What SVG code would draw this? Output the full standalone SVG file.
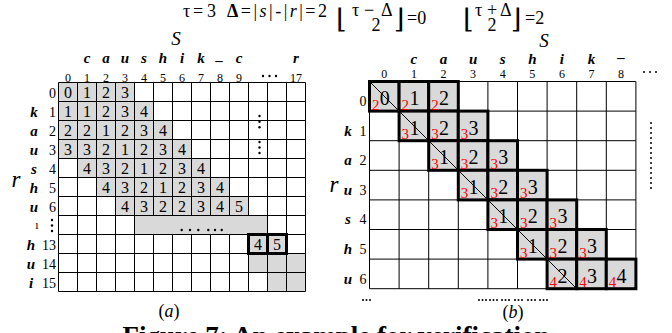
<svg xmlns="http://www.w3.org/2000/svg" width="672" height="333" viewBox="0 0 672 333">
<style>
text{font-family:"Liberation Serif","Times New Roman",serif;fill:#000}
.v{font-size:16px;text-anchor:middle}
.bv{font-size:20px;text-anchor:middle}
.rd{font-size:15px;fill:#f00}
.lt{font-size:15px;font-weight:bold;font-style:italic;text-anchor:middle}
.hn{font-size:12px;text-anchor:middle}
.rn{font-size:14px;text-anchor:end}
.ln{fill:none;stroke:#000;stroke-width:1}
.sh{fill:#d9d9d9}
.tk{fill:#d9d9d9;stroke:#000;stroke-width:3}
.big{font-style:italic;font-size:23px;text-anchor:middle}
.ti{font-size:18px}
.fl{font-family:"DejaVu Serif",serif;font-size:27px}
</style>
<rect width="672" height="333" fill="#fff"/>

<g id="title">
<text class="ti" x="183 193 207" y="17">τ=3</text>
<text class="ti" x="227" y="17" textLength="100" lengthAdjust="spacing"><tspan font-weight="bold">Δ</tspan>=|<tspan font-style="italic">s</tspan>|-|<tspan font-style="italic">r</tspan>|=2</text>
<text class="fl" x="336" y="28">⌊</text>
<text class="ti" x="352 364 381" y="16">τ−Δ</text>
<text class="ti" x="376" y="31" text-anchor="middle">2</text>
<text class="fl" x="394" y="28">⌋</text>
<text class="ti" x="407" y="24">=0</text>
<text class="fl" x="463" y="28">⌊</text>
<text class="ti" x="475 487 500" y="16">τ+Δ</text>
<text class="ti" x="492" y="31" text-anchor="middle">2</text>
<text class="fl" x="511" y="28">⌋</text>
<text class="ti" x="525" y="24">=2</text>
</g>

<g id="gridA">
<rect class="sh" x="58.5" y="82.5" width="76" height="19"/>
<rect class="sh" x="58.5" y="101.5" width="95" height="19"/>
<rect class="sh" x="58.5" y="120.5" width="114" height="19"/>
<rect class="sh" x="58.5" y="139.5" width="133" height="19"/>
<rect class="sh" x="77.5" y="158.5" width="133" height="19"/>
<rect class="sh" x="96.5" y="177.5" width="133" height="19"/>
<rect class="sh" x="115.5" y="196.5" width="133" height="19"/>
<rect class="sh" x="134.5" y="215.5" width="133" height="19"/>
<rect class="sh" x="248.5" y="253.5" width="57" height="19"/>
<rect class="sh" x="267.5" y="272.5" width="38" height="19"/>
<path class="ln" d="M58.5 82.5H305.5M58.5 101.5H305.5M58.5 120.5H305.5M58.5 139.5H305.5M58.5 158.5H305.5M58.5 177.5H305.5M58.5 196.5H305.5M58.5 215.5H305.5M58.5 234.5H305.5M58.5 253.5H305.5M58.5 272.5H305.5M58.5 291.5H305.5
M58.5 82.5V291.5M77.5 82.5V291.5M96.5 82.5V291.5M115.5 82.5V291.5M134.5 82.5V291.5
M153.5 82.5V215.5M153.5 234.5V291.5M172.5 82.5V215.5M172.5 234.5V291.5M191.5 82.5V215.5M191.5 234.5V291.5M210.5 82.5V215.5M210.5 234.5V291.5M229.5 82.5V215.5M229.5 234.5V291.5M248.5 82.5V215.5M248.5 234.5V291.5
M267.5 82.5V291.5M286.5 82.5V291.5M305.5 82.5V291.5"/>
<rect class="tk" x="248.5" y="234.5" width="19" height="19"/>
<rect class="tk" x="267.5" y="234.5" width="19" height="19"/>

<text class="v" x="68 87 106 125" y="97.5">0123</text>
<text class="v" x="68 87 106 125 144" y="116.5">11234</text>
<text class="v" x="68 87 106 125 144 163" y="135.5">221234</text>
<text class="v" x="68 87 106 125 144 163 182" y="154.5">3321234</text>
<text class="v" x="87 106 125 144 163 182 201" y="173.5">4321234</text>
<text class="v" x="106 125 144 163 182 201 220" y="192.5">4321234</text>
<text class="v" x="125 144 163 182 201 220 239" y="211.5">4322345</text>
<text class="v" x="258 277" y="249.5">45</text>

<text class="hn" x="68 87 106 125 144 163 182 201 220 239" y="81.5">0123456789</text>
<text class="hn" x="296" y="81.5">17</text>
<text class="lt" x="87 106 125 144 163 182 201" y="63">caushik</text>
<text class="lt" x="220" y="60">_</text>
<text class="lt" x="239" y="63">c</text>
<text class="lt" x="296" y="63">r</text>
<text x="176" y="45" font-size="19" font-style="italic" text-anchor="middle">S</text>

<text class="rn" x="56" y="97.5">0</text>
<text class="rn" x="56" y="116.5">1</text>
<text class="rn" x="56" y="135.5">2</text>
<text class="rn" x="56" y="154.5">3</text>
<text class="rn" x="56" y="173.5">4</text>
<text class="rn" x="56" y="192.5">5</text>
<text class="rn" x="56" y="211.5">6</text>
<text class="rn" x="56" y="249.5">13</text>
<text class="rn" x="56" y="268.5">14</text>
<text class="rn" x="56" y="287.5">15</text>
<text class="lt" x="34" y="116.5">k</text>
<text class="lt" x="34" y="135.5">a</text>
<text class="lt" x="34" y="154.5">u</text>
<text class="lt" x="34" y="173.5">s</text>
<text class="lt" x="34" y="192.5">h</text>
<text class="lt" x="34" y="211.5">u</text>
<text x="37" y="229" font-size="12" text-anchor="middle">ı</text>
<text class="lt" x="31" y="249.5">h</text>
<text class="lt" x="31" y="268.5">u</text>
<text class="lt" x="31" y="287.5">i</text>
<text class="big" x="16" y="187">r</text>

<g fill="#000">
<circle cx="52" cy="220" r="1.2"/><circle cx="52" cy="225.5" r="1.2"/><circle cx="52" cy="231" r="1.2"/>
<circle cx="263" cy="76" r="1.2"/><circle cx="269.5" cy="76" r="1.2"/><circle cx="276" cy="76" r="1.2"/>
<circle cx="259.5" cy="116" r="1.2"/><circle cx="259.5" cy="121.7" r="1.2"/><circle cx="259.5" cy="127.3" r="1.2"/>
<circle cx="259.5" cy="142" r="1.2"/><circle cx="259.5" cy="147.5" r="1.2"/><circle cx="259.5" cy="153" r="1.2"/>
<circle cx="181.7" cy="230" r="1.2"/><circle cx="190" cy="230" r="1.2"/><circle cx="198.3" cy="230" r="1.2"/>
<circle cx="208.3" cy="230" r="1.2"/><circle cx="215" cy="230" r="1.2"/><circle cx="221.7" cy="230" r="1.2"/>
</g>
<text x="169" y="317" font-size="18" text-anchor="middle">(<tspan font-style="italic">a</tspan>)</text>
</g>

<g id="gridB">
<path class="ln" d="M369.5 81.5H635.9M369.5 111.1H635.9M369.5 140.7H635.9M369.5 170.3H635.9M369.5 199.9H635.9M369.5 229.5H635.9M369.5 259.1H635.9M369.5 288.7H635.9
M369.5 81.5V288.7M399.1 81.5V288.7M428.7 81.5V288.7M458.3 81.5V288.7M487.9 81.5V288.7M517.5 81.5V288.7M547.1 81.5V288.7M576.7 81.5V288.7M606.3 81.5V288.7M635.9 81.5V288.7"/>
<g class="tk">
<rect x="369.5" y="81.5" width="29.6" height="29.6"/><rect x="399.1" y="81.5" width="29.6" height="29.6"/><rect x="428.7" y="81.5" width="29.6" height="29.6"/>
<rect x="399.1" y="111.1" width="29.6" height="29.6"/><rect x="428.7" y="111.1" width="29.6" height="29.6"/><rect x="458.3" y="111.1" width="29.6" height="29.6"/>
<rect x="428.7" y="140.7" width="29.6" height="29.6"/><rect x="458.3" y="140.7" width="29.6" height="29.6"/><rect x="487.9" y="140.7" width="29.6" height="29.6"/>
<rect x="458.3" y="170.3" width="29.6" height="29.6"/><rect x="487.9" y="170.3" width="29.6" height="29.6"/><rect x="517.5" y="170.3" width="29.6" height="29.6"/>
<rect x="487.9" y="199.9" width="29.6" height="29.6"/><rect x="517.5" y="199.9" width="29.6" height="29.6"/><rect x="547.1" y="199.9" width="29.6" height="29.6"/>
<rect x="517.5" y="229.5" width="29.6" height="29.6"/><rect x="547.1" y="229.5" width="29.6" height="29.6"/><rect x="576.7" y="229.5" width="29.6" height="29.6"/>
<rect x="547.1" y="259.1" width="29.6" height="29.6"/><rect x="576.7" y="259.1" width="29.6" height="29.6"/><rect x="606.3" y="259.1" width="29.6" height="29.6"/>
</g>

<text class="bv" x="384.8 414.4 444" y="105">012</text>
<text class="bv" x="414.4 444 473.6" y="134.6">123</text>
<text class="bv" x="444 473.6 503.2" y="164.2">123</text>
<text class="bv" x="473.6 503.2 532.8" y="193.8">123</text>
<text class="bv" x="503.2 532.8 562.4" y="223.4">123</text>
<text class="bv" x="532.8 562.4 592" y="253">123</text>
<text class="bv" x="562.4 592 621.6" y="282.6">234</text>

<text class="rd" x="372 401.6 431.2" y="109.5">222</text>
<text class="rd" x="401.6 431.2 460.8" y="139.1">333</text>
<text class="rd" x="431.2 460.8 490.4" y="168.7">333</text>
<text class="rd" x="460.8 490.4 520" y="198.3">333</text>
<text class="rd" x="490.4 520 549.6" y="227.9">333</text>
<text class="rd" x="520 549.6 579.2" y="257.5">333</text>
<text class="rd" x="549.6 579.2 608.8" y="287.1">444</text>

<text class="hn" x="384.3 413.9 443.5 473.1 502.7 532.3 561.9 591.5 621.1" y="78" font-size="13">012345678</text>
<text class="lt" x="413.9 443.5 473.1 502.7 532.3 561.9 591.5" y="64">caushik</text>
<text class="lt" x="621.1" y="62">–</text>
<text x="544" y="46.7" font-size="19" font-style="italic" text-anchor="middle">S</text>

<text class="rn" x="366.5" y="106">0</text>
<text class="rn" x="366.5" y="135.6">1</text>
<text class="rn" x="366.5" y="165.2">2</text>
<text class="rn" x="366.5" y="194.8">3</text>
<text class="rn" x="366.5" y="224.4">4</text>
<text class="rn" x="366.5" y="254">5</text>
<text class="rn" x="366.5" y="283.6">6</text>
<text class="lt" x="348" y="135.6">k</text>
<text class="lt" x="348" y="165.2">a</text>
<text class="lt" x="348" y="194.8">u</text>
<text class="lt" x="348" y="224.4">s</text>
<text class="lt" x="348" y="254">h</text>
<text class="lt" x="348" y="283.6">u</text>
<text class="big" x="334" y="192">r</text>

<g fill="#000">
<circle cx="644" cy="72" r="1"/><circle cx="650" cy="72" r="1"/><circle cx="656" cy="72" r="1"/>
<circle cx="651" cy="123" r="1"/><circle cx="651" cy="128" r="1"/><circle cx="651" cy="133" r="1"/><circle cx="651" cy="138" r="1"/><circle cx="651" cy="143" r="1"/><circle cx="651" cy="148" r="1"/><circle cx="651" cy="153" r="1"/><circle cx="651" cy="158" r="1"/><circle cx="651" cy="163" r="1"/><circle cx="651" cy="168" r="1"/><circle cx="651" cy="173" r="1"/><circle cx="651" cy="178" r="1"/><circle cx="651" cy="183" r="1"/><circle cx="651" cy="188" r="1"/>
<circle cx="363" cy="300" r="1"/><circle cx="366.5" cy="300" r="1"/><circle cx="370" cy="300" r="1"/>
<circle cx="479" cy="300" r="1"/><circle cx="482.5" cy="300" r="1"/><circle cx="486" cy="300" r="1"/>
<circle cx="490" cy="300" r="1"/><circle cx="493.5" cy="300" r="1"/><circle cx="497" cy="300" r="1"/>
<circle cx="502" cy="300" r="1"/><circle cx="505.5" cy="300" r="1"/><circle cx="509" cy="300" r="1"/>
<circle cx="515" cy="300" r="1"/><circle cx="518.5" cy="300" r="1"/><circle cx="522" cy="300" r="1"/>
<circle cx="528" cy="300" r="1"/><circle cx="531.5" cy="300" r="1"/><circle cx="535" cy="300" r="1"/>
<circle cx="540" cy="300" r="1"/><circle cx="543.5" cy="300" r="1"/><circle cx="547" cy="300" r="1"/>
</g>
<text x="513" y="318" font-size="18" text-anchor="middle">(<tspan font-style="italic">b</tspan>)</text>
</g>

<g id="connectors">
<path class="ln" d="M369.5 81.5L576.7 288.7"/>
</g>

<text x="336" y="345" font-size="27" font-weight="bold" text-anchor="middle">Figure 7: An example for verification</text>
</svg>
